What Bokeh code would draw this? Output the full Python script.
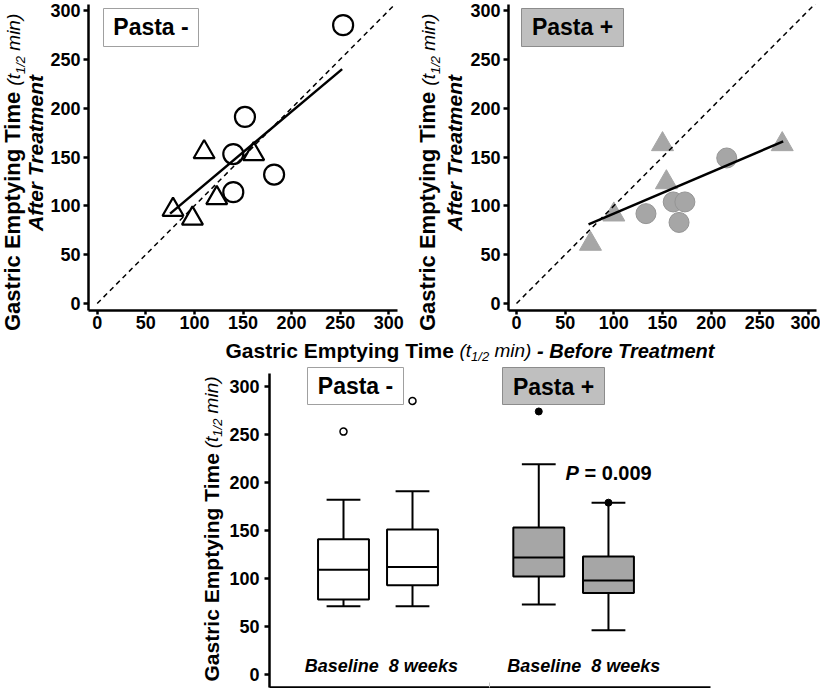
import math
from bokeh.plotting import figure
from bokeh.models import Range1d, Label, BoxAnnotation, FixedTicker, Div
from bokeh.layouts import column, row
from bokeh.embed import file_html
from bokeh.resources import INLINE

# ---------------- data ----------------
axis_ticks = [0, 50, 100, 150, 200, 250, 300]
identity_line = [0, 320]

# Pasta - : before vs after treatment
neg_circle_before = [253, 152, 140, 140, 182]
neg_circle_after = [285, 191, 153, 114, 132]
neg_tri_before = [110, 161, 123, 78, 98]
neg_tri_after = [155, 153, 108, 96, 87]
neg_fit_before = [75, 252]
neg_fit_after = [92, 240]

# Pasta + : before vs after treatment
pos_circle_before = [216, 133, 161, 173, 167]
pos_circle_after = [149, 92, 104, 104, 83]
pos_tri_before = [150, 273, 154, 100, 76]
pos_tri_after = [163, 163, 124, 91, 61]
pos_fit_before = [74, 274]
pos_fit_after = [81, 166]

# Box plots
box_groups = ["Pasta - Baseline", "Pasta - 8 weeks", "Pasta + Baseline", "Pasta + 8 weeks"]
box_low = [71, 71, 73, 46]
box_q1 = [78, 93, 102, 85]
box_med = [109, 112, 122, 98]
box_q3 = [141, 151, 153, 123]
box_high = [182, 191, 219, 179]
outlier_group = ["Pasta - Baseline", "Pasta - 8 weeks", "Pasta + Baseline", "Pasta + 8 weeks"]
outlier_value = [253, 285, 274, 179]

# ---------------- layout helpers ----------------
FONT = "Liberation Sans"
GREY = "#a6a6a6"
LABEL_GREY = "#bfbfbf"
BASE_FIX = 0.35   # Label's alphabetic anchor sits this many em below the glyph baseline

REG = {' ': 278, '(': 333, ')': 333, 't': 278, 'm': 833, 'i': 222, 'n': 556,
       '1': 556, '/': 278, '2': 556}
BOLD = {'G': 778, 'a': 556, 's': 556, 't': 333, 'r': 389, 'i': 278, 'c': 556, ' ': 278,
        'E': 667, 'm': 889, 'p': 611, 'y': 556, 'n': 611, 'g': 611, 'T': 611, 'e': 556,
        '-': 333, 'B': 722, 'f': 333, 'o': 611, 'A': 722, 'P': 667, '=': 584, '0': 556,
        '.': 278, '9': 556, 'l': 278, '8': 556, 'w': 778, 'k': 556}


def text_width(s, size, style):
    table = BOLD if "bold" in style else REG
    return sum(table.get(c, 556) for c in s) * size / 1000.0


def base_fig(W, H, xr, yr, borders, axes=True):
    L, R, T, B = borders
    kw = {} if axes else dict(x_axis_type=None, y_axis_type=None)
    p = figure(width=W, height=H, x_range=xr, y_range=yr, output_backend="svg",
               toolbar_location=None, min_border_left=L, min_border_right=R,
               min_border_top=T, min_border_bottom=B, **kw)
    p.grid.visible = False
    p.outline_line_color = None
    p.background_fill_color = "white"
    p.border_fill_color = "white"
    return p


def make_panel(cx0, cy0, W, H, frame, xcal, ycal):
    """Chart panel whose canvas top-left sits at page (cx0, cy0)."""
    fl, fr, ft, fb = frame
    (xa, xa_r), (xb, xb_r) = xcal
    (ya, ya_r), (yb, yb_r) = ycal
    L, R, T, B = fl - cx0, fr - cx0, ft - cy0, fb - cy0
    kx = (xb_r - xa_r) / (xb - xa)
    ky = (ya_r - yb_r) / (yb - ya)
    ax, ay = xa_r - cx0, ya_r - cy0
    x0 = xa - (ax - L) / kx
    x1 = xa + (R - ax) / kx
    y0 = ya - (B - ay) / ky
    y1 = ya + (ay - T) / ky
    p = base_fig(W, H, Range1d(x0, x1), Range1d(y0, y1), (L, W - R, T, H - B))

    def conv(xr_, yr_):
        return (x0 + (xr_ - cx0 - L) / kx, y1 - (yr_ - cy0 - T) / ky)
    return p, conv


def make_textbox(cx0, cy0, W, H):
    """Plain canvas for titles (frame = whole canvas, so nothing is clipped)."""
    p = base_fig(W, H, Range1d(0, W), Range1d(0, H), (0, 0, 0, 0), axes=False)

    def conv(xr_, yr_):
        return (xr_ - cx0, H - (yr_ - cy0))
    return p, conv


def style_axis(ax, tick_out, standoff, ticks):
    ax.ticker = FixedTicker(ticks=ticks)
    ax.axis_line_width = 2.5
    ax.axis_line_color = "black"
    ax.major_tick_line_width = 2.5
    ax.major_tick_line_color = "black"
    ax.major_tick_out = tick_out
    ax.major_tick_in = 0
    ax.minor_tick_out = 0
    ax.minor_tick_in = 0
    ax.major_label_text_font = FONT
    ax.major_label_text_font_style = "bold"
    ax.major_label_text_font_size = "18px"
    ax.major_label_text_color = "black"
    ax.major_label_standoff = standoff


def add_text(p, conv, xr, yr, s, size, style, align="left", angle=0.0):
    shift = BASE_FIX * size
    if angle == 0.0:
        yr = yr - shift
    else:
        xr = xr - shift
    x, y = conv(xr, yr)
    p.add_layout(Label(x=x, y=y, text=s, text_font=FONT,
                       text_font_size=f"{int(size)}px", text_font_style=style,
                       text_align=align, text_baseline="alphabetic", angle=angle,
                       text_color="black"))


def add_mixed(p, conv, xr, yr, pieces, vertical):
    pos = 0.0
    for s, size, style, sub in pieces:
        stripped = s.lstrip(" ")
        pos += text_width(s[:len(s) - len(stripped)], size, style)
        if vertical:
            add_text(p, conv, xr + sub, yr - pos, stripped, size, style, angle=math.pi / 2)
        else:
            add_text(p, conv, xr + pos, yr + sub, stripped, size, style)
        pos += text_width(stripped, size, style)


def add_box_label(p, conv, x0r, y0r, x1r, y1r, fill, line, s, base_r):
    l, t = conv(x0r, y0r)
    r, b = conv(x1r, y1r)
    p.add_layout(BoxAnnotation(left=l, right=r, top=t, bottom=b, fill_color=fill,
                               fill_alpha=1.0, line_color=line, line_alpha=1.0,
                               line_width=1))
    add_text(p, conv, (x0r + x1r) / 2, base_r, s, 23, "bold", align="center")


def y_title_pieces(bold_size):
    return [("Gastric Emptying Time", bold_size, "bold", 0),
            (" (t", 19, "italic", 0),
            ("1/2", 13, "italic", 4),
            (" min)", 19, "italic", 0)]


def rotated_line(left, bottom, inner, fs):
    """One line of HTML text reading bottom-to-top, its box's top-left corner
    (before rotation) at (left, bottom) inside the title column."""
    return (f'<div style="position:absolute;left:{left:.1f}px;top:{bottom:.1f}px;'
            f'transform-origin:0 0;transform:rotate(-90deg);white-space:nowrap;'
            f"font-family:'{FONT}';font-size:{fs}px;line-height:1;color:black;\">"
            f'{inner}</div>')


def top_title_column(cx0, W, H, base1, base2):
    bold1, it1, sub1, size2 = 22, 19, 13, 21
    # baseline sits (half-leading + ascent) below the top of a line-height:1 box
    off1 = (bold1 - 1.149 * bold1) / 2 + 0.905 * bold1
    off2 = (size2 - 1.149 * size2) / 2 + 0.905 * size2
    line1 = (f'<span style="font-weight:bold;font-size:{bold1}px">Gastric Emptying Time</span> '
             f'<span style="font-style:italic;font-size:{it1}px">(t<sub style="font-size:{sub1}px">1/2</sub> min)</span>')
    line2 = f'<span style="font-weight:bold;font-style:italic">After Treatment</span>'
    len2 = text_width("After Treatment", size2, "bold")
    html = (f'<div style="position:relative;width:{W}px;height:{H}px;overflow:visible;">'
            + rotated_line(max(base1 - cx0 - off1, 2.0), 331, line1, bold1)
            + rotated_line(base2 - cx0 - off2, 153 + len2 / 2, line2, size2)
            + '</div>')
    return Div(text=html, width=W, height=H, margin=0, styles={"overflow": "visible"})


# ---------------- top-left: Pasta - ----------------
t1 = top_title_column(0, 46, 340, 18.5, 42)

p1, c1 = make_panel(46, 0, 364, 340, (88, 397, 4, 310),
                    ((0, 96.7), (300, 388.3)), ((0, 303), (300, 10)))
style_axis(p1.xaxis[0], 4, 1, axis_ticks)
style_axis(p1.yaxis[0], 5, 3, axis_ticks)
p1.scatter(neg_circle_before, neg_circle_after, marker="circle", size=20,
           fill_alpha=0, line_color="black", line_width=2.2)
p1.scatter(neg_tri_before, neg_tri_after, marker="triangle", size=21,
           fill_alpha=0, line_color="black", line_width=2.2)
p1.line(identity_line, identity_line, line_dash="5 4", line_width=1.5, color="black")
p1.line(neg_fit_before, neg_fit_after, line_width=2.5, color="black")
add_box_label(p1, c1, 103, 8, 198, 46, "white", "#a0a0a0", "Pasta -", 35)

# ---------------- top-right: Pasta + ----------------
t2 = top_title_column(410, 56, 340, 435, 461)

p2, c2 = make_panel(466, 0, 354, 340, (508, 816, 4, 310),
                    ((0, 516), (300, 808)), ((0, 303), (300, 10)))
style_axis(p2.xaxis[0], 4, 1, axis_ticks)
style_axis(p2.yaxis[0], 5, 3, axis_ticks)
p2.scatter(pos_circle_before, pos_circle_after, marker="circle", size=20,
           fill_color=GREY, line_color="#959595", line_width=1)
p2.scatter(pos_tri_before, pos_tri_after, marker="triangle", size=22,
           fill_color=GREY, line_color=GREY, line_width=1)
p2.line(identity_line, identity_line, line_dash="5 4", line_width=1.5, color="black")
p2.line(pos_fit_before, pos_fit_after, line_width=2.5, color="black")
add_box_label(p2, c2, 521, 8, 623, 46, LABEL_GREY, "#8c8c8c", "Pasta +", 35)

# ---------------- shared x title ----------------
tx, ctx = make_textbox(0, 340, 820, 26)
add_mixed(tx, ctx, 225, 357, [("Gastric Emptying Time", 21, "bold", 0),
                              (" (t", 19, "italic", 0),
                              ("1/2", 13, "italic", 4),
                              (" min)", 19, "italic", 0),
                              (" - Before Treatment", 20, "bold italic", 0)], False)

# ---------------- bottom: box plots ----------------
t3, ct3 = make_textbox(0, 366, 224, 322)
add_mixed(t3, ct3, 218, 682, y_title_pieces(21), True)

group_pos = {"Pasta - Baseline": 1.0, "Pasta - 8 weeks": 2.0,
             "Pasta + Baseline": 3.83, "Pasta + 8 weeks": 4.84}
p3, c3 = make_panel(224, 366, 596, 322, (269, 710, 366, 687),
                    ((1.0, 343), (2.0, 412)), ((0, 674), (300, 386)))
style_axis(p3.yaxis[0], 5, 5, axis_ticks)
p3.yaxis[0].bounds = (c3(0, 687)[1], c3(0, 373)[1])
sep_x = c3(489.3, 0)[0]
xa3 = p3.xaxis[0]
xa3.ticker = FixedTicker(ticks=[], minor_ticks=[sep_x])
xa3.axis_line_width = 2.5
xa3.axis_line_color = "black"
xa3.major_tick_in = 0
xa3.major_tick_out = 0
xa3.minor_tick_in = 5
xa3.minor_tick_out = 0
xa3.minor_tick_line_color = "#c8c8c8"
xa3.minor_tick_line_width = 1
xa3.major_label_standoff = 0

bx = [group_pos[g] for g in box_groups]
fills = ["white" if g.startswith("Pasta -") else GREY for g in box_groups]
half_box = 0.369
half_cap = 0.245
p3.segment(x0=bx, y0=box_q3, x1=bx, y1=box_high, line_width=2, color="black")
p3.segment(x0=bx, y0=box_low, x1=bx, y1=box_q1, line_width=2, color="black")
p3.segment(x0=[x - half_cap for x in bx], y0=box_high, x1=[x + half_cap for x in bx],
           y1=box_high, line_width=2, color="black")
p3.segment(x0=[x - half_cap for x in bx], y0=box_low, x1=[x + half_cap for x in bx],
           y1=box_low, line_width=2, color="black")
p3.vbar(x=bx, width=2 * half_box, bottom=box_q1, top=box_q3, fill_color=fills,
        line_color="black", line_width=2)
p3.segment(x0=[x - half_box for x in bx], y0=box_med, x1=[x + half_box for x in bx],
           y1=box_med, line_width=2, color="black")
ox = [group_pos[g] for g in outlier_group]
neg_idx = [i for i, g in enumerate(outlier_group) if g.startswith("Pasta -")]
pos_idx = [i for i, g in enumerate(outlier_group) if g.startswith("Pasta +")]
p3.scatter([ox[i] for i in neg_idx], [outlier_value[i] for i in neg_idx], marker="circle",
           size=7, fill_color="white", line_color="black", line_width=1.5)
p3.scatter([ox[i] for i in pos_idx], [outlier_value[i] for i in pos_idx], marker="circle",
           size=7, fill_color="black", line_color="black")

add_box_label(p3, c3, 307, 367, 403, 404, "white", "#a0a0a0", "Pasta -", 394)
add_box_label(p3, c3, 502, 367, 604, 404, LABEL_GREY, "#8c8c8c", "Pasta +", 395)
for x_start in (304.3, 506.7):
    add_text(p3, c3, x_start, 672, "Baseline", 18, "bold italic")
    add_text(p3, c3, x_start + text_width("Baseline  ", 18, "bold"), 672, "8 weeks", 18, "bold italic")
add_text(p3, c3, 565, 479, "P", 20, "bold italic")
add_text(p3, c3, 565 + text_width("P ", 20, "bold"), 479, "= 0.009", 20, "bold")

layout = column(row(t1, p1, t2, p2, spacing=0), tx, row(t3, p3, spacing=0), spacing=0)
open("out.html", "w").write(file_html(layout, INLINE))
